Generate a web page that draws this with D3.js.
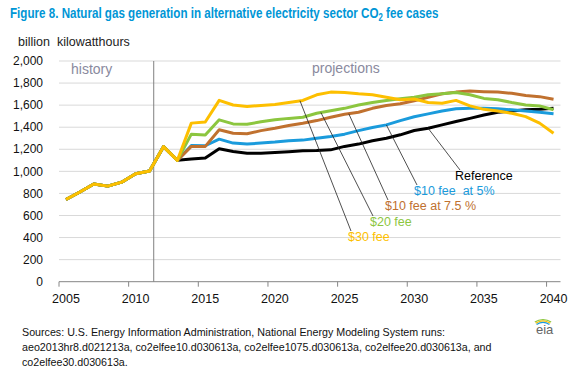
<!DOCTYPE html>
<html>
<head>
<meta charset="utf-8">
<script src="https://cdn.jsdelivr.net/npm/d3@7"></script>
<style>
  body { margin: 0; background: #fff; }
  text { font-family: "Liberation Sans", Arial, sans-serif; white-space: pre; }
</style>
</head>
<body>
<div id="chart"></div>
<script>
/***** Data *****/
var years = [2005, 2006, 2007, 2008, 2009, 2010, 2011, 2012, 2013, 2014, 2015, 2016,
  2017, 2018, 2019, 2020, 2021, 2022, 2023, 2024, 2025, 2026, 2027, 2028,
  2029, 2030, 2031, 2032, 2033, 2034, 2035, 2036, 2037, 2038, 2039, 2040];

// history 2005-2012, shared by every case
var histVals = [745, 813, 885, 866, 902, 978, 1004, 1224];

// projections 2013-2040
var reference = [1100, 1111, 1120, 1204, 1180, 1165, 1165, 1171, 1178, 1186, 1189, 1195, 1226, 1247,
  1277, 1300, 1331, 1370, 1390, 1421, 1451, 1480, 1511, 1535, 1547, 1558, 1562, 1571];
var fee10at5 = [1100, 1235, 1232, 1292, 1256, 1247, 1256, 1265, 1277, 1283, 1300, 1315, 1337, 1369,
  1397, 1421, 1460, 1495, 1521, 1547, 1567, 1571, 1571, 1567, 1558, 1547, 1535, 1521];
var fee10at75 = [1100, 1226, 1226, 1377, 1346, 1340, 1369, 1390, 1415, 1436, 1460, 1490, 1517, 1535,
  1571, 1597, 1612, 1640, 1671, 1703, 1718, 1728, 1722, 1718, 1707, 1687, 1677, 1653];
var fee20 = [1100, 1337, 1329, 1467, 1430, 1427, 1449, 1467, 1480, 1490, 1526, 1550, 1571, 1602,
  1624, 1643, 1658, 1671, 1694, 1703, 1715, 1694, 1661, 1649, 1624, 1602, 1593, 1558];
var fee30 = [1100, 1437, 1447, 1643, 1601, 1588, 1597, 1606, 1624, 1643, 1694, 1718, 1715, 1703,
  1694, 1671, 1649, 1655, 1624, 1618, 1643, 1593, 1562, 1547, 1526, 1496, 1437, 1346];

var yTicks = [0, 200, 400, 600, 800, 1000, 1200, 1400, 1600, 1800, 2000];
var xTickLabels = [2005, 2010, 2015, 2020, 2025, 2030, 2035, 2040];

// name, colour, values, year the leader line leaves the curve
var cases = [
  {name: "Reference",        color: "#000000", values: reference, at: 2031},
  {name: "$10 fee  at 5%",   color: "#1a9bdc", values: fee10at5,  at: 2028},
  {name: "$10 fee at 7.5 %", color: "#c0712f", values: fee10at75, at: 2025.3},
  {name: "$20 fee",          color: "#8cc63f", values: fee20,     at: 2023.3},
  {name: "$30 fee",          color: "#fdbf00", values: fee30,     at: 2021.8}
];
// where each label sits
var labelPos = [[455, 180], [414, 195], [385, 210], [370, 226], [348, 241]];

/***** Chart *****/
var width = 574, height = 375;
var svg = d3.select("#chart").append("svg")
  .attr("width", width)
  .attr("height", height);

svg.append("rect").attr("width", width).attr("height", height).attr("fill", "#fff");

var x = d3.scaleLinear().domain([2004.5, 2040.5]).range([59, 560.5]);
var y = d3.scaleLinear().domain([0, 2000]).range([281.7, 61]);

// title (squeezed horizontally, the original face is a narrow one)
var title = svg.append("text")
  .attr("transform", "translate(10,18) scale(0.775,1)")
  .attr("fill", "#0096d6")
  .attr("font-weight", "bold")
  .attr("font-size", 15);
title.append("tspan").text("Figure 8. Natural gas generation in alternative electricity sector CO");
title.append("tspan").attr("dy", 3).attr("font-size", 10).text("2");
title.append("tspan").attr("dy", -3).text(" fee cases");

svg.append("text")
  .attr("x", 18).attr("y", 46)
  .attr("font-size", 12.5)
  .attr("fill", "#222")
  .text("billion  kilowatthours");

// gridlines
svg.append("g").selectAll("line")
  .data(yTicks.slice(1))
  .join("line")
  .attr("x1", x(2004.5)).attr("x2", x(2040.5))
  .attr("y1", d => y(d)).attr("y2", d => y(d))
  .attr("stroke", "#d9d9d9")
  .attr("stroke-width", 1);

// y tick labels
svg.append("g").selectAll("text")
  .data(yTicks)
  .join("text")
  .attr("x", 43)
  .attr("y", d => y(d))
  .attr("dy", "0.35em")
  .attr("text-anchor", "end")
  .attr("font-size", 12)
  .attr("fill", "#111")
  .text(d => d3.format(",")(d));

// x axis: ticks at category boundaries, labels centred on years
var xAxis = svg.append("g")
  .attr("transform", "translate(0," + y(0) + ")");
xAxis.append("line")
  .attr("x1", x(2004.5)).attr("x2", x(2040.5))
  .attr("stroke", "#868686");
xAxis.selectAll(".tick")
  .data(xTickLabels)
  .join("line")
  .attr("class", "tick")
  .attr("x1", d => x(d - 0.5)).attr("x2", d => x(d - 0.5))
  .attr("y1", 0).attr("y2", 5)
  .attr("stroke", "#868686");
xAxis.selectAll(".lbl")
  .data(xTickLabels)
  .join("text")
  .attr("class", "lbl")
  .attr("x", d => x(d))
  .attr("y", 21)
  .attr("text-anchor", "middle")
  .attr("font-size", 12.5)
  .attr("fill", "#111")
  .text(d => d);

// history / projections divider
svg.append("line")
  .attr("x1", x(2011.3)).attr("x2", x(2011.3))
  .attr("y1", y(2000)).attr("y2", y(0))
  .attr("stroke", "#808080")
  .attr("stroke-width", 1);

svg.append("text")
  .attr("x", 71).attr("y", 74)
  .attr("font-size", 14)
  .attr("fill", "#8a8a9e")
  .text("history");
svg.append("text")
  .attr("x", 312).attr("y", 73)
  .attr("font-size", 14)
  .attr("fill", "#8a8a9e")
  .text("projections");

// series
var line = d3.line()
  .x(d => x(d[0]))
  .y(d => y(d[1]));

function seriesPoints(c) {
  return years.map(function (yr, i) {
    var v = i < histVals.length ? histVals[i] : c.values[i - histVals.length];
    return [yr, v];
  });
}

function valueAt(c, yr) {
  var pts = seriesPoints(c);
  var i = d3.bisector(d => d[0]).left(pts, yr);
  if (i <= 0) return pts[0][1];
  var a = pts[i - 1], b = pts[i];
  return a[1] + (b[1] - a[1]) * (yr - a[0]) / (b[0] - a[0]);
}

svg.append("g").selectAll("path")
  .data(cases)
  .join("path")
  .attr("d", d => line(seriesPoints(d)))
  .attr("fill", "none")
  .attr("stroke", d => d.color)
  .attr("stroke-width", 3)
  .attr("stroke-linejoin", "round");

// leader lines + labels
svg.append("g").selectAll("line")
  .data(cases)
  .join("line")
  .attr("x1", d => x(d.at))
  .attr("y1", d => y(valueAt(d, d.at)))
  .attr("x2", (d, i) => labelPos[i][0] + (i == 0 ? 5 : 3))
  .attr("y2", (d, i) => labelPos[i][1] - 10)
  .attr("stroke", "#222")
  .attr("stroke-width", 0.8);

svg.append("g").selectAll("text")
  .data(cases)
  .join("text")
  .attr("x", (d, i) => labelPos[i][0])
  .attr("y", (d, i) => labelPos[i][1])
  .attr("font-size", 12.5)
  .attr("fill", d => d.color == "#000000" ? "#000" : d.color)
  .text(d => d.name);

// sources
var sources = [
  "Sources: U.S. Energy Information Administration, National Energy Modeling System runs:",
  "aeo2013hr8.d021213a, co2elfee10.d030613a, co2elfee1075.d030613a, co2elfee20.d030613a, and",
  "co2elfee30.d030613a."
];
svg.append("g").selectAll("text")
  .data(sources)
  .join("text")
  .attr("x", 22)
  .attr("y", (d, i) => 336 + i * 15)
  .attr("font-size", 10.7)
  .attr("fill", "#111")
  .text(d => d);

// eia logo
var logo = svg.append("g").attr("transform", "translate(543,334)");
[["#8cc63f", 15], ["#fdbf00", 13.5], ["#1a9bdc", 12]].forEach(function (a) {
  logo.append("path")
    .attr("d", d3.arc()({innerRadius: a[1] - 1.2, outerRadius: a[1], startAngle: -0.6, endAngle: 0.6}))
    .attr("fill", a[0]);
});
logo.append("text")
  .attr("x", -7).attr("y", 0)
  .attr("font-family", "'Liberation Serif', serif")
  .attr("font-size", 13)
  .attr("fill", "#666")
  .text("eia");
</script>
</body>
</html>
